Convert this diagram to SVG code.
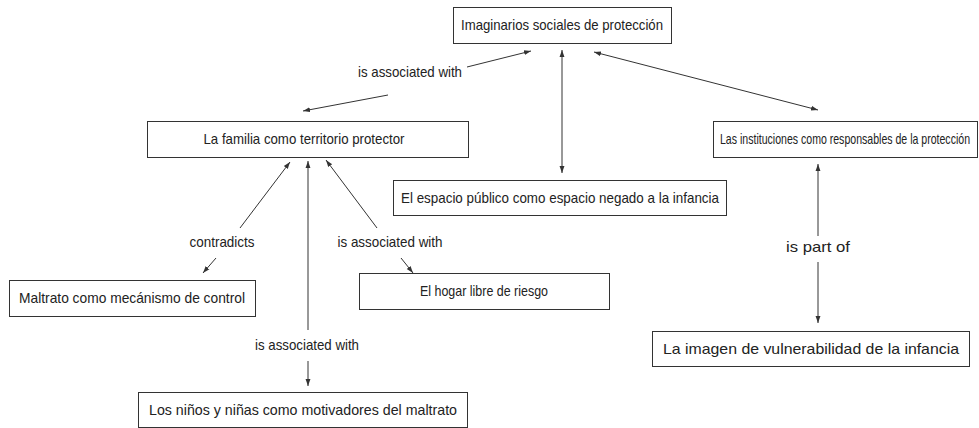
<svg xmlns="http://www.w3.org/2000/svg" width="979" height="428" viewBox="0 0 979 428">
<style>
.box{fill:#fff;stroke:#333;stroke-width:1}
.t{font-family:"Liberation Sans Narrow","Liberation Sans",Arial,sans-serif;font-size:15px;fill:#222;text-anchor:middle}
.c{stroke:#333;stroke-width:1;fill:none}
</style>
<defs>
<marker id="ah" viewBox="0 0 10 10" refX="10" refY="5" markerWidth="7" markerHeight="7" orient="auto-start-reverse" markerUnits="userSpaceOnUse">
<path d="M0,1.5 L10,5 L0,8.5 z" fill="#333"/>
</marker>
</defs>
<rect width="979" height="428" fill="#fff"/>
<g id="connectors">
<line class="c" x1="467" y1="67" x2="531" y2="51" marker-end="url(#ah)"/>
<line class="c" x1="388" y1="95" x2="303" y2="111" marker-end="url(#ah)"/>
<text class="t" x="410" y="77" textLength="104" lengthAdjust="spacingAndGlyphs">is associated with</text>
<line class="c" x1="562" y1="50" x2="562" y2="173" marker-start="url(#ah)" marker-end="url(#ah)"/>
<line class="c" x1="594" y1="52" x2="818" y2="110" marker-start="url(#ah)" marker-end="url(#ah)"/>
<line class="c" x1="240" y1="228" x2="290" y2="162" marker-end="url(#ah)"/>
<text class="t" x="222" y="247" textLength="65" lengthAdjust="spacingAndGlyphs">contradicts</text>
<line class="c" x1="216" y1="258" x2="203" y2="273" marker-end="url(#ah)"/>
<line class="c" x1="377" y1="228" x2="326" y2="160" marker-end="url(#ah)"/>
<text class="t" x="390" y="247" textLength="105" lengthAdjust="spacingAndGlyphs">is associated with</text>
<line class="c" x1="401" y1="258" x2="413" y2="273" marker-end="url(#ah)"/>
<line class="c" x1="308" y1="330" x2="308" y2="161" marker-end="url(#ah)"/>
<text class="t" x="307" y="350" textLength="104" lengthAdjust="spacingAndGlyphs">is associated with</text>
<line class="c" x1="308" y1="361" x2="308" y2="386" marker-end="url(#ah)"/>
<line class="c" x1="818" y1="236" x2="818" y2="164" marker-end="url(#ah)"/>
<text class="t" x="818" y="252" textLength="64" lengthAdjust="spacingAndGlyphs">is part of</text>
<line class="c" x1="818" y1="262" x2="818" y2="323" marker-end="url(#ah)"/>
</g>
<g id="n1"><rect class="box" x="453.5" y="7.5" width="218" height="36"/><text class="t" x="562" y="30" textLength="202" lengthAdjust="spacingAndGlyphs">Imaginarios sociales de protección</text></g>
<g id="n2"><rect class="box" x="147.5" y="121.5" width="321" height="36"/><text class="t" x="304" y="144" textLength="201" lengthAdjust="spacingAndGlyphs">La familia como territorio protector</text></g>
<g id="n3"><rect class="box" x="713.5" y="121.5" width="264" height="36"/><text class="t" x="845" y="144" textLength="250" lengthAdjust="spacingAndGlyphs">Las instituciones como responsables de la protección</text></g>
<g id="n4"><rect class="box" x="393.5" y="180.5" width="333" height="35"/><text class="t" x="560" y="203" textLength="318" lengthAdjust="spacingAndGlyphs">El espacio público como espacio negado a la infancia</text></g>
<g id="n5"><rect class="box" x="9.5" y="280.5" width="246" height="36"/><text class="t" x="132" y="303" textLength="226" lengthAdjust="spacingAndGlyphs">Maltrato como mecánismo de control</text></g>
<g id="n6"><rect class="box" x="359.5" y="273.5" width="250" height="36"/><text class="t" x="484" y="296" textLength="128" lengthAdjust="spacingAndGlyphs">El hogar libre de riesgo</text></g>
<g id="n7"><rect class="box" x="138.5" y="392.5" width="329" height="35"/><text class="t" x="303" y="415" textLength="308" lengthAdjust="spacingAndGlyphs">Los niños y niñas como motivadores del maltrato</text></g>
<g id="n8"><rect class="box" x="652.5" y="331.5" width="317" height="35"/><text class="t" x="811" y="354" textLength="296" lengthAdjust="spacingAndGlyphs">La imagen de vulnerabilidad de la infancia</text></g>
</svg>
